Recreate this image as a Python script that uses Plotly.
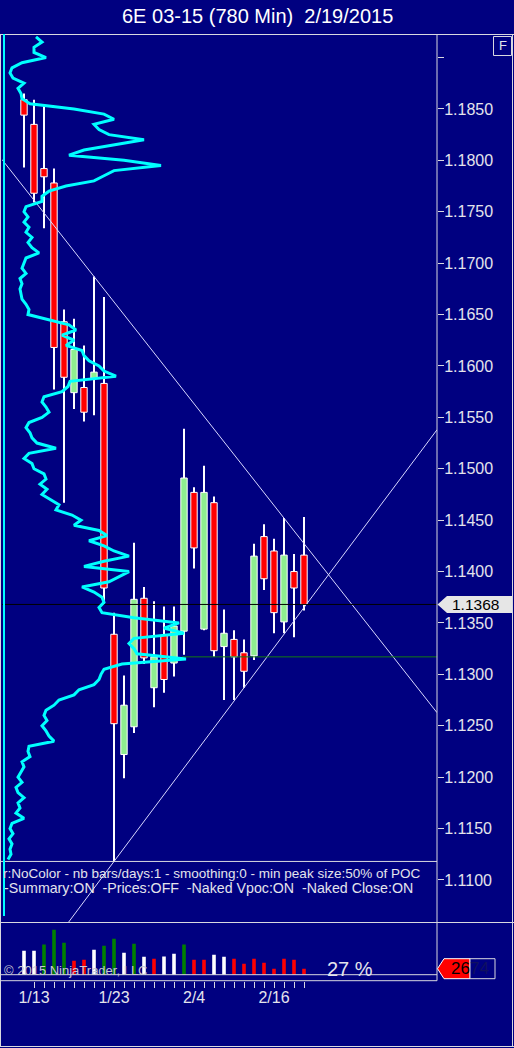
import plotly.graph_objects as go

W, H = 514, 1048

# ---------------- data ----------------
title_text = "6E 03-15 (780 Min)\u00a0 2/19/2015"
bar_dates = ['1/12', '1/13', '1/14', '1/15', '1/16', '1/19', '1/20', '1/21', '1/22', '1/23',
             '1/26', '1/27', '1/28', '1/29', '1/30', '2/2', '2/3', '2/4', '2/5', '2/6',
             '2/9', '2/10', '2/11', '2/12', '2/13', '2/16', '2/17', '2/18', '2/19']
labeled_dates = ['1/13', '1/23', '2/4', '2/16']

opens = [1.1859, 1.1835, 1.1792, 1.1778, 1.1643, 1.1574, 1.1579, 1.1588, 1.1583, 1.1339,
         1.1222, 1.1249, 1.1374, 1.1287, 1.1338, 1.1311, 1.1342, 1.1477, 1.1344, 1.1467,
         1.1327, 1.1334, 1.1321, 1.1318, 1.1434, 1.1420, 1.1351, 1.1400, 1.1416]
highs = [1.1865, 1.1859, 1.1854, 1.1792, 1.1655, 1.1646, 1.1620, 1.1687, 1.1667, 1.1360,
         1.1299, 1.1428, 1.1385, 1.1371, 1.1366, 1.1366, 1.1539, 1.1482, 1.1503, 1.1473,
         1.1363, 1.1343, 1.1334, 1.1427, 1.1446, 1.1432, 1.1452, 1.1417, 1.1453]
lows = [1.1793, 1.1759, 1.1734, 1.1577, 1.1467, 1.1558, 1.1546, 1.1552, 1.1369, 1.1118,
        1.1199, 1.1243, 1.1310, 1.1268, 1.1282, 1.1298, 1.1319, 1.1403, 1.1343, 1.1317,
        1.1275, 1.1275, 1.1287, 1.1314, 1.1382, 1.1340, 1.1340, 1.1336, 1.1362]
closes = [1.1844, 1.1768, 1.1784, 1.1618, 1.1589, 1.1616, 1.1555, 1.1594, 1.1384, 1.1252,
          1.1270, 1.1373, 1.1316, 1.1317, 1.1295, 1.1347, 1.1491, 1.1423, 1.1477, 1.1323,
          1.1340, 1.1317, 1.1303, 1.1415, 1.1393, 1.1360, 1.1416, 1.1384, 1.1368]

volumes = [10700, 10650, 13400, 20050, 14200, 6250, 6700, 11100, 12900, 16000,
           9800, 13800, 8000, 7100, 8050, 9350, 13400, 6650, 6700, 8900,
           8000, 7150, 4900, 7100, 5350, 2650, 7150, 6650, 2674]
volume_dir = ['n', 'n', 'u', 'u', 'u', 'd', 'd', 'n', 'u', 'u',
              'n', 'u', 'n', 'd', 'n', 'n', 'u', 'd', 'd', 'n',
              'n', 'd', 'd', 'd', 'd', 'd', 'd', 'd', 'd']
bar_progress_text = "27 %"

# trend lines: (bar index, field) anchors
desc_anchor = [(7, 'high'), (26, 'high')]
rise_anchor = [(9, 'low'), (22, 'low')]
naked_vpoc_price = 1.1317
naked_vpoc_bar = 16

# volume profile: price levels (top, step) and volume at each level
profile_top = 1.1920
profile_step = 0.0005
profile_vol = [32, 38, 30, 30, 42, 18, 8, 6, 9, 20,
               14, 17, 18, 26, 70, 100, 110, 90, 95, 105,
               140, 110, 80, 65, 120, 157, 110, 100, 90, 62,
               45, 38, 38, 22, 20, 24, 20, 25, 22, 28,
               24, 28, 35, 22, 20, 18, 22, 16, 18, 16,
               17, 18, 22, 25, 24, 45, 65, 72, 58, 70,
               62, 78, 80, 85, 95, 100, 112, 66, 64, 58,
               40, 38, 42, 45, 38, 25, 22, 26, 28, 33,
               52, 25, 20, 28, 30, 40, 42, 36, 43, 38,
               46, 55, 52, 68, 77, 70, 95, 103, 85, 100,
               110, 125, 100, 80, 125, 115, 105, 78, 90, 98,
               100, 95, 98, 130, 175, 160, 180, 130, 125, 130,
               133, 182, 118, 100, 97, 95, 90, 75, 70, 55,
               50, 42, 40, 43, 38, 42, 45, 50, 25, 24,
               26, 18, 20, 17, 14, 18, 12, 14, 20, 14,
               16, 12, 20, 8, 6, 9, 5, 8, 6, 7, 4]

info_line1 = "r:NoColor - nb bars/days:1 - smoothing:0 - min peak size:50% of POC"
info_line2 = "-Summary:ON\u00a0 -Prices:OFF\u00a0 -Naked Vpoc:ON\u00a0 -Naked Close:ON"
copyright_text = "\u00a9 2015 NinjaTrader, LLC"

# ---------------- styles / layout ----------------
NAVY = '#000080'
RED = '#FF0000'
LGREEN = '#90EE90'
CYAN = '#00FFFF'
AXC = '#D8D8E0'
TXT = '#E4E4EC'
FONT = 'Liberation Sans, Arial, sans-serif'

X_RANGE = [-2.2, 41.3]
Y_RANGE = [1.10591, 1.19229]
VOL_RANGE = [-2670, 23450]
PROFILE_RANGE = [-2, 433]

PLOT_L, PLOT_R = 2, 437
PRICE_TOP, PRICE_BOT = 34, 922
VOL_BOT = 980.7


def px(x):
    return x / W


def py(y):
    return 1 - y / H


idx = list(range(len(bar_dates)))
fields = {'high': highs, 'low': lows}

fig = go.Figure()

# wicks
fig.add_trace(go.Bar(x=idx, y=[h - l for h, l in zip(highs, lows)], base=lows, width=0.2,
                     marker=dict(color='white', line=dict(width=0)),
                     xaxis='x', yaxis='y', hoverinfo='skip'))
# bodies
fig.add_trace(go.Bar(x=idx, y=[abs(c - o) for o, c in zip(opens, closes)],
                     base=[min(o, c) for o, c in zip(opens, closes)], width=0.64,
                     marker=dict(color=[LGREEN if c >= o else RED for o, c in zip(opens, closes)],
                                 line=dict(color='white', width=1)),
                     xaxis='x', yaxis='y', hoverinfo='skip'))


def trend(anchors):
    (i0, f0), (i1, f1) = anchors
    p0, p1 = fields[f0][i0], fields[f1][i1]
    s = (p1 - p0) / (i1 - i0)
    return [p0 + s * (x - i0) for x in X_RANGE]


for anc in (desc_anchor, rise_anchor):
    fig.add_trace(go.Scatter(x=X_RANGE, y=trend(anc), mode='lines',
                             line=dict(color='#D8D8FF', width=1), xaxis='x', yaxis='y',
                             hoverinfo='skip'))

# last price line
fig.add_trace(go.Scatter(x=X_RANGE, y=[closes[-1], closes[-1]], mode='lines',
                         line=dict(color='black', width=1), xaxis='x', yaxis='y', hoverinfo='skip'))
# naked vpoc line
fig.add_trace(go.Scatter(x=[naked_vpoc_bar - 0.2, X_RANGE[1]], y=[naked_vpoc_price] * 2, mode='lines',
                         line=dict(color='#127A12', width=1), xaxis='x', yaxis='y', hoverinfo='skip'))

# volume bars
vcol = {'n': 'white', 'u': '#008000', 'd': RED}
fig.add_trace(go.Bar(x=idx, y=volumes, width=0.36,
                     marker=dict(color=[vcol[d] for d in volume_dir], line=dict(width=0)),
                     xaxis='x2', yaxis='y2', hoverinfo='skip'))

# volume profile (overlay)
profile_prices = [round(profile_top - profile_step * k, 4) for k in range(len(profile_vol))]
fig.add_trace(go.Scatter(x=profile_vol, y=profile_prices, mode='lines',
                         line=dict(color=CYAN, width=3), xaxis='x3', yaxis='y',
                         hoverinfo='skip'))

# ticks
price_ticks = [round(1.110 + 0.005 * k, 3) for k in range(17)]
price_ticktext = [f"{v:.4f}" if v < 1.19 else '' for v in price_ticks]
date_tickvals = idx[1:]
date_ticktext = [bar_dates[i] if bar_dates[i] in labeled_dates else '' for i in date_tickvals]

shapes = []


def hline(y, x0, x1, color=AXC, yref='paper'):
    shapes.append(dict(type='line', xref='paper', yref=yref, x0=x0, x1=x1, y0=y, y1=y,
                       line=dict(color=color, width=1)))


def vline(x, y0, y1, color=AXC, xref='paper'):
    shapes.append(dict(type='line', xref=xref, yref='paper', x0=x, x1=x, y0=y0, y1=y1,
                       line=dict(color=color, width=1)))


hline(py(PRICE_TOP + 0.5), 0, 1)
hline(py(PRICE_BOT + 0.5), 0, 1)
hline(py(VOL_BOT), 0, px(PLOT_R))
hline(py(1046.5), 0, 1)
vline(px(512.5), py(PRICE_TOP), py(1046.5))
vline(px(0.5), py(PRICE_TOP), py(1046.5))
vline(px(PLOT_R), py(PRICE_TOP), py(VOL_BOT))
# volume zero line
shapes.append(dict(type='line', xref='paper', yref='y2', x0=0, x1=px(PLOT_R), y0=0, y1=0,
                   line=dict(color=AXC, width=1)))
# lowest low line
shapes.append(dict(type='line', xref='paper', yref='y', x0=0, x1=px(PLOT_R), y0=min(lows), y1=min(lows),
                   line=dict(color=AXC, width=1)))
# cyan profile base line
shapes.append(dict(type='line', xref='x3', yref='paper', x0=0, x1=0, y0=py(PRICE_TOP), y1=py(916),
                   line=dict(color=CYAN, width=2)))
# F box
shapes.append(dict(type='rect', xref='paper', yref='paper', x0=px(493.5), x1=px(511.5),
                   y0=py(36.5), y1=py(55.5), line=dict(color=AXC, width=1)))

# last price marker
pu = (Y_RANGE[1] - Y_RANGE[0]) / (PRICE_BOT - PRICE_TOP)
lp = closes[-1]
shapes.append(dict(type='path', xref='paper', yref='y',
                   path=f"M {px(437.5)},{lp} L {px(447)},{lp + 8.5 * pu} L {px(512)},{lp + 8.5 * pu} "
                        f"L {px(512)},{lp - 8.5 * pu} L {px(447)},{lp - 8.5 * pu} Z",
                   fillcolor='#E6E6E6', line=dict(width=0)))
# volume marker
vu = (VOL_RANGE[1] - VOL_RANGE[0]) / (VOL_BOT - PRICE_BOT)
lv = volumes[-1]
shapes.append(dict(type='path', xref='paper', yref='y2',
                   path=f"M {px(437.5)},{lv} L {px(444)},{lv + 10 * vu} L {px(470)},{lv + 10 * vu} "
                        f"L {px(470)},{lv - 10 * vu} L {px(444)},{lv - 10 * vu} Z",
                   fillcolor=RED, line=dict(color='white', width=1)))
shapes.append(dict(type='rect', xref='paper', yref='y2', x0=px(470), x1=px(495),
                   y0=lv - 10 * vu, y1=lv + 10 * vu, fillcolor=NAVY, line=dict(color=AXC, width=1)))

annotations = [
    dict(text=title_text, x=0.5, y=py(16), xref='paper', yref='paper', showarrow=False,
         xanchor='center', yanchor='middle', font=dict(family=FONT, size=20, color='white')),
    dict(text='F', x=px(502.5), y=py(46), xref='paper', yref='paper', showarrow=False,
         xanchor='center', yanchor='middle', font=dict(family=FONT, size=13, color=TXT)),
    dict(text=info_line1, x=px(1), y=py(873), xref='paper', yref='paper', showarrow=False,
         xanchor='left', yanchor='middle', font=dict(family=FONT, size=13.5, color=TXT)),
    dict(text=info_line2, x=px(2), y=py(888), xref='paper', yref='paper', showarrow=False,
         xanchor='left', yanchor='middle', font=dict(family=FONT, size=14.2, color=TXT)),
    dict(text=copyright_text, x=px(2), y=py(970), xref='paper', yref='paper', showarrow=False,
         xanchor='left', yanchor='middle', font=dict(family=FONT, size=13, color='#C8C8D4')),
    dict(text=bar_progress_text, x=px(349.5), y=py(969), xref='paper', yref='paper', showarrow=False,
         xanchor='center', yanchor='middle', font=dict(family=FONT, size=20, color=TXT)),
    dict(text=f"{lp:.4f}", x=px(475), y=lp, xref='paper', yref='y', showarrow=False,
         xanchor='center', yanchor='middle', font=dict(family=FONT, size=15.5, color='black')),
    dict(text=f"<span style='color:black'>{str(lv)[:2]}</span><span style='color:#101060'>{str(lv)[2:]}</span>",
         x=px(470), y=lv, xref='paper', yref='y2', showarrow=False,
         xanchor='center', yanchor='middle', font=dict(family=FONT, size=17, color='black')),
]

fig.update_layout(
    width=W, height=H, margin=dict(l=0, r=0, t=0, b=0),
    paper_bgcolor=NAVY, plot_bgcolor=NAVY, showlegend=False, barmode='overlay',
    font=dict(family=FONT, color=TXT),
    xaxis=dict(domain=[px(PLOT_L), px(PLOT_R)], range=X_RANGE, showticklabels=False, ticks='',
               showgrid=False, zeroline=False, showline=False, anchor='y'),
    yaxis=dict(domain=[py(PRICE_BOT), py(PRICE_TOP)], range=Y_RANGE, side='right', ticks='outside',
               ticklen=6, tickwidth=1, tickcolor=AXC, tickvals=price_ticks, ticktext=price_ticktext,
               tickfont=dict(family=FONT, size=16, color=TXT), showgrid=False, zeroline=False,
               showline=False, anchor='x', ticklabelstandoff=-3),
    xaxis2=dict(domain=[px(PLOT_L), px(PLOT_R)], range=X_RANGE, anchor='y2', ticks='outside',
                ticklen=6, tickwidth=1, tickcolor=AXC, tickvals=date_tickvals, ticktext=date_ticktext,
                tickfont=dict(family=FONT, size=16, color=TXT), showgrid=False, zeroline=False,
                showline=False, ticklabelstandoff=-4),
    yaxis2=dict(domain=[py(VOL_BOT), py(PRICE_BOT)], range=VOL_RANGE, showticklabels=False, ticks='',
                showgrid=False, zeroline=False, showline=False, anchor='x2'),
    xaxis3=dict(overlaying='x', range=PROFILE_RANGE, visible=False, anchor='y'),
    shapes=shapes,
    annotations=annotations,
)

fig.write_html("out.html", config={'displayModeBar': False, 'staticPlot': True},
               post_script="document.body.style.margin='0';document.body.style.padding='0';"
                           "document.body.style.overflow='hidden';"
                           "document.body.style.background='" + NAVY + "';")
